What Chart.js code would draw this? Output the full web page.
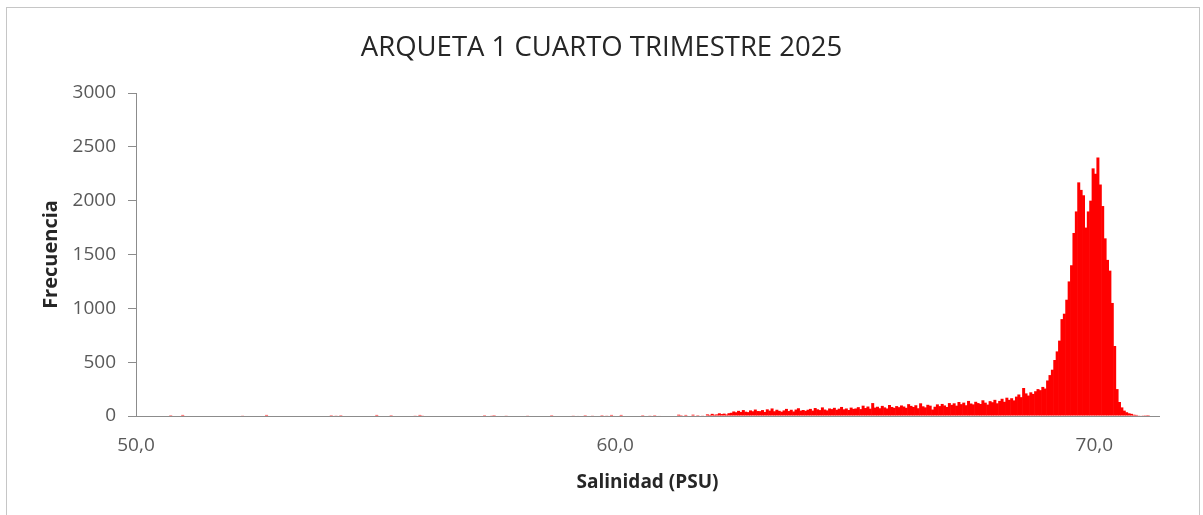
<!DOCTYPE html>
<html>
<head>
<meta charset="utf-8">
<title>ARQUETA 1 CUARTO TRIMESTRE 2025</title>
<script src="https://cdn.jsdelivr.net/npm/chart.js@4.4.1/dist/chart.umd.min.js"></script>
<style>
  html, body { margin: 0; padding: 0; background: #fff; }
  #frame { position: absolute; left: 6px; top: 7px; width: 1192px; height: 520px; border: 1px solid #c6c6c6; }
  #wrap { position: absolute; left: 0; top: 0; width: 1203px; height: 515px; }
</style>
</head>
<body>
<div id="frame"></div>
<div id="wrap"><canvas id="histo"></canvas></div>
<script>
// histogram bins of 0.05 PSU, from 50,00 to 71,35
const binStart = 50.0;
const binWidth = 0.05;

// frequency per bin, one row per 1 PSU
const frecuencia = [
    // 50
    0, 0, 0, 0, 0, 0, 0, 0, 0, 0, 0, 0, 0, 0, 8, 0, 0, 0, 0, 10,
    // 51
    0, 0, 0, 0, 0, 0, 0, 0, 0, 0, 0, 0, 0, 0, 0, 0, 0, 0, 0, 0,
    // 52
    0, 0, 0, 0, 6, 0, 0, 0, 0, 0, 0, 0, 0, 0, 10, 0, 0, 0, 0, 0,
    // 53
    0, 0, 0, 0, 0, 0, 0, 0, 0, 0, 0, 0, 0, 0, 0, 0, 0, 0, 0, 0,
    // 54
    0, 8, 0, 6, 0, 8, 0, 0, 0, 0, 0, 0, 0, 0, 0, 0, 0, 0, 0, 0,
    // 55
    10, 0, 0, 0, 0, 0, 8, 0, 0, 0, 0, 0, 0, 0, 0, 0, 6, 0, 10, 6,
    // 56
    0, 0, 0, 0, 0, 0, 0, 0, 0, 0, 0, 0, 0, 0, 0, 0, 0, 0, 0, 0,
    // 57
    0, 0, 0, 0, 0, 8, 0, 0, 6, 8, 0, 0, 0, 0, 6, 0, 0, 0, 0, 0,
    // 58
    0, 0, 0, 6, 0, 0, 0, 0, 0, 0, 0, 0, 0, 8, 0, 0, 0, 0, 0, 0,
    // 59
    0, 0, 6, 0, 5, 0, 0, 8, 0, 0, 6, 0, 0, 0, 8, 0, 6, 0, 10, 5,
    // 60
    0, 0, 10, 0, 0, 0, 0, 0, 0, 0, 0, 8, 0, 0, 6, 0, 8, 0, 5, 0,
    // 61
    0, 0, 0, 0, 0, 0, 12, 8, 0, 10, 0, 0, 12, 0, 8, 0, 6, 0, 15, 10,
    // 62
    20, 12, 15, 25, 18, 22, 14, 26, 30, 42, 35, 48, 38, 55, 40, 36, 52, 44, 60, 46,
    // 63
    45, 55, 38, 62, 50, 70, 44, 58, 48, 40, 52, 66, 46, 58, 42, 60, 72, 50, 56, 48,
    // 64
    58, 66, 50, 74, 62, 55, 80, 60, 52, 70, 64, 76, 58, 68, 84, 62, 70, 56, 78, 66,
    // 65
    70, 82, 64, 96, 74, 88, 68, 120, 78, 86, 72, 94, 80, 70, 102, 84, 76, 92, 82, 98,
    // 66
    88, 76, 110, 94, 84, 100, 72, 118, 90, 80, 104, 96, 60, 86, 108, 92, 112, 98, 84, 120,
    // 67
    104, 118, 96, 130, 110, 124, 100, 140, 116, 108, 132, 120, 112, 146, 124, 106, 138, 128, 150, 118,
    // 68
    140, 160, 132, 170, 150, 165, 145, 180, 200, 175, 260, 210, 190, 220, 205, 230, 250, 240, 270, 255,
    // 69
    330, 380, 430, 520, 600, 700, 900, 950, 1080, 1250, 1400, 1700, 1900, 2170, 2100, 2050, 1750, 1900, 2000, 2300,
    // 70
    2250, 2400, 2150, 1950, 1650, 1450, 1350, 1050, 650, 250, 130, 80, 50, 35, 25, 20, 12, 10, 6, 4,
    // 71
    3, 2, 1, 0, 0, 0, 0
];

// bin centres
const salinidad = frecuencia.map((f, i) => +(binStart + binWidth * (i + 0.5)).toFixed(3));

const xTickValues = [50, 60, 70];
const xTickLabels = ['50,0', '60,0', '70,0'];
const yTickStep = 500;

Chart.defaults.font.family = 'Open Sans';

const ctx = document.getElementById('histo').getContext('2d');

new Chart(ctx, {
    type: 'bar',
    data: {
        datasets: [{
            label: 'Frecuencia',
            data: salinidad.map((s, i) => ({ x: s, y: frecuencia[i] })),
            backgroundColor: '#ff0000',
            borderWidth: 0,
            inflateAmount: 0,
            barPercentage: 1.25, // slight overlap so no white seams between bins
            categoryPercentage: 1
        }]
    },
    options: {
        responsive: true,
        maintainAspectRatio: false,
        animation: false,
        layout: { padding: 0 },
        plugins: {
            legend: { display: false },
            tooltip: { enabled: false },
            title: {
                display: true,
                text: 'ARQUETA 1 CUARTO TRIMESTRE 2025',
                color: '#262626',
                font: { size: 27.5, weight: 'normal' },
                padding: { top: 32, bottom: 28 }
            }
        },
        scales: {
            x: {
                type: 'linear',
                min: 50,
                max: 71.35,
                offset: false,
                grid: { display: false, drawTicks: false },
                border: { color: '#8c8c8c' },
                afterBuildTicks: function(scale) {
                    scale.ticks = xTickValues.map(v => ({ value: v }));
                },
                ticks: {
                    color: '#595959',
                    font: { size: 19 },
                    padding: 18,
                    maxRotation: 0,
                    callback: function(value, index) {
                        return xTickLabels[index];
                    }
                },
                title: {
                    display: true,
                    text: 'Salinidad (PSU)',
                    color: '#262626',
                    font: { size: 19, weight: 'bold' },
                    padding: { top: 4, bottom: 21 }
                },
                afterFit: function(scale) { scale.height = 99; }
            },
            y: {
                min: 0,
                max: 3000,
                ticks: {
                    stepSize: yTickStep,
                    color: '#595959',
                    font: { size: 19 },
                    padding: 12,
                    callback: function(value) {
                        return String(value);
                    }
                },
                grid: { drawOnChartArea: false, drawTicks: true, tickLength: 8, color: '#8c8c8c' },
                border: { color: '#8c8c8c' },
                title: {
                    display: true,
                    text: 'Frecuencia',
                    color: '#262626',
                    font: { size: 20, weight: 'bold' },
                    padding: { top: 39, bottom: 0 }
                },
                afterFit: function(scale) { scale.width = 136; }
            },
            // empty right axis, keeps the right margin so the title stays centred on the frame
            yRight: {
                position: 'right',
                display: true,
                grid: { display: false, drawTicks: false },
                border: { display: false },
                ticks: { display: false },
                afterFit: function(scale) { scale.width = 44; }
            }
        }
    }
});
</script>
</body>
</html>
